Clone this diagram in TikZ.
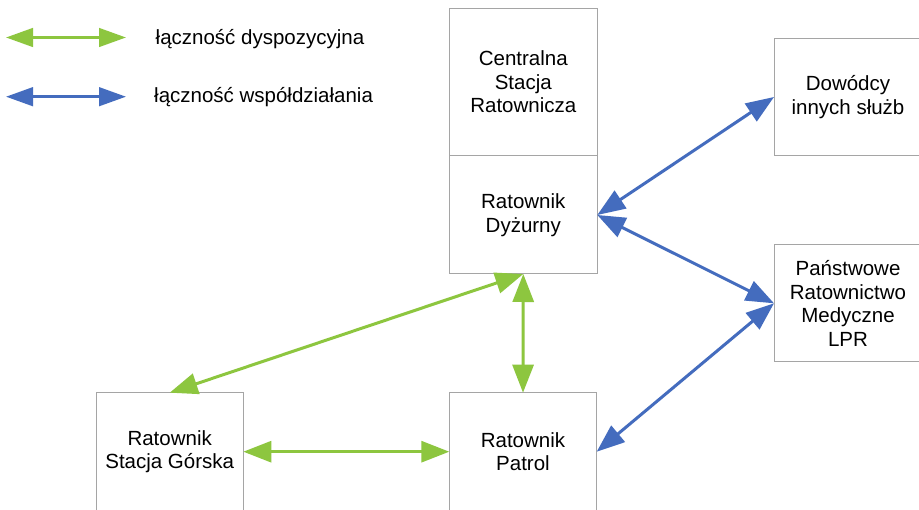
\documentclass[tikz,border=0pt]{standalone}
\usepackage{fontspec}
\setmainfont{Liberation Sans}
\usetikzlibrary{arrows.meta}
\definecolor{lgreen}{RGB}{141,198,63}
\definecolor{lblue}{RGB}{68,108,190}
\definecolor{boxgray}{RGB}{165,165,165}
\begin{document}
\begin{tikzpicture}[x=1pt,y=-1pt,
  box/.style={draw=boxgray,line width=1pt,inner sep=0pt,outer sep=0pt,
    minimum width=148pt,align=center,
    font=\fontsize{20.5pt}{23.5pt}\selectfont},
  disp/.style={draw=lgreen,line width=3pt,
    {Triangle[length=28pt,width=21pt]}-{Triangle[length=28pt,width=21pt]}},
  wsp/.style={draw=lblue,line width=3pt,
    {Triangle[length=28pt,width=21pt]}-{Triangle[length=28pt,width=21pt]}},
  legarrow/.style={line width=3pt,
    {Triangle[length=27pt,width=18.5pt]}-{Triangle[length=27pt,width=18.5pt]}},
  legtext/.style={anchor=west,inner sep=0pt,font=\fontsize{20.5pt}{23.5pt}\selectfont}
]
\useasboundingbox (0,0) rectangle (919,510);
\fill[white] (0,0) rectangle (919,510);

% legend
\coordinate (g1) at (6,37.5);
\coordinate (g2) at (126,37.5);
\coordinate (b1) at (6,96.7);
\coordinate (b2) at (126,96.7);
\draw[legarrow,draw=lgreen,fill=lgreen] (g1) -- (g2);
\draw[legarrow,draw=lblue,fill=lblue] (b1) -- (b2);
\node[legtext] (lt1) at (155.5,39) {łączność dyspozycyjna};
\node[legtext] (lt2) at (154,97) {łączność współdziałania};

% boxes
\node[box,minimum height=147.7pt] (csr) at (523.3,82.15) {Centralna\\Stacja\\Ratownicza};
\node[box,minimum height=118pt] (dyz) at (523.3,215) {Ratownik\\Dyżurny};
\node[box,minimum height=117.4pt] (dow) at (848,97) {Dowódcy\\innych służb};
\node[box,minimum height=116.7pt] (prm) at (848,303.3) {Państwowe\\Ratownictwo\\Medyczne\\LPR};
\node[box,minimum width=147.3pt,minimum height=118pt] (sg) at (169.7,451.7) {Ratownik\\Stacja Górska};
\node[box,minimum width=147.4pt,minimum height=118pt] (pat) at (523,451.7) {Ratownik\\Patrol};

% connectors
\draw[disp,fill=lgreen] (dyz.south) -- (sg.north);
\draw[disp,fill=lgreen] (dyz.south) -- (pat.north);
\draw[disp,fill=lgreen] (sg.east) -- (pat.west);
\draw[wsp,fill=lblue] (dyz.east) -- (dow.west);
\draw[wsp,fill=lblue] (dyz.east) -- (prm.west);
\draw[wsp,fill=lblue] (prm.west) -- (pat.east);
\end{tikzpicture}
\end{document}
